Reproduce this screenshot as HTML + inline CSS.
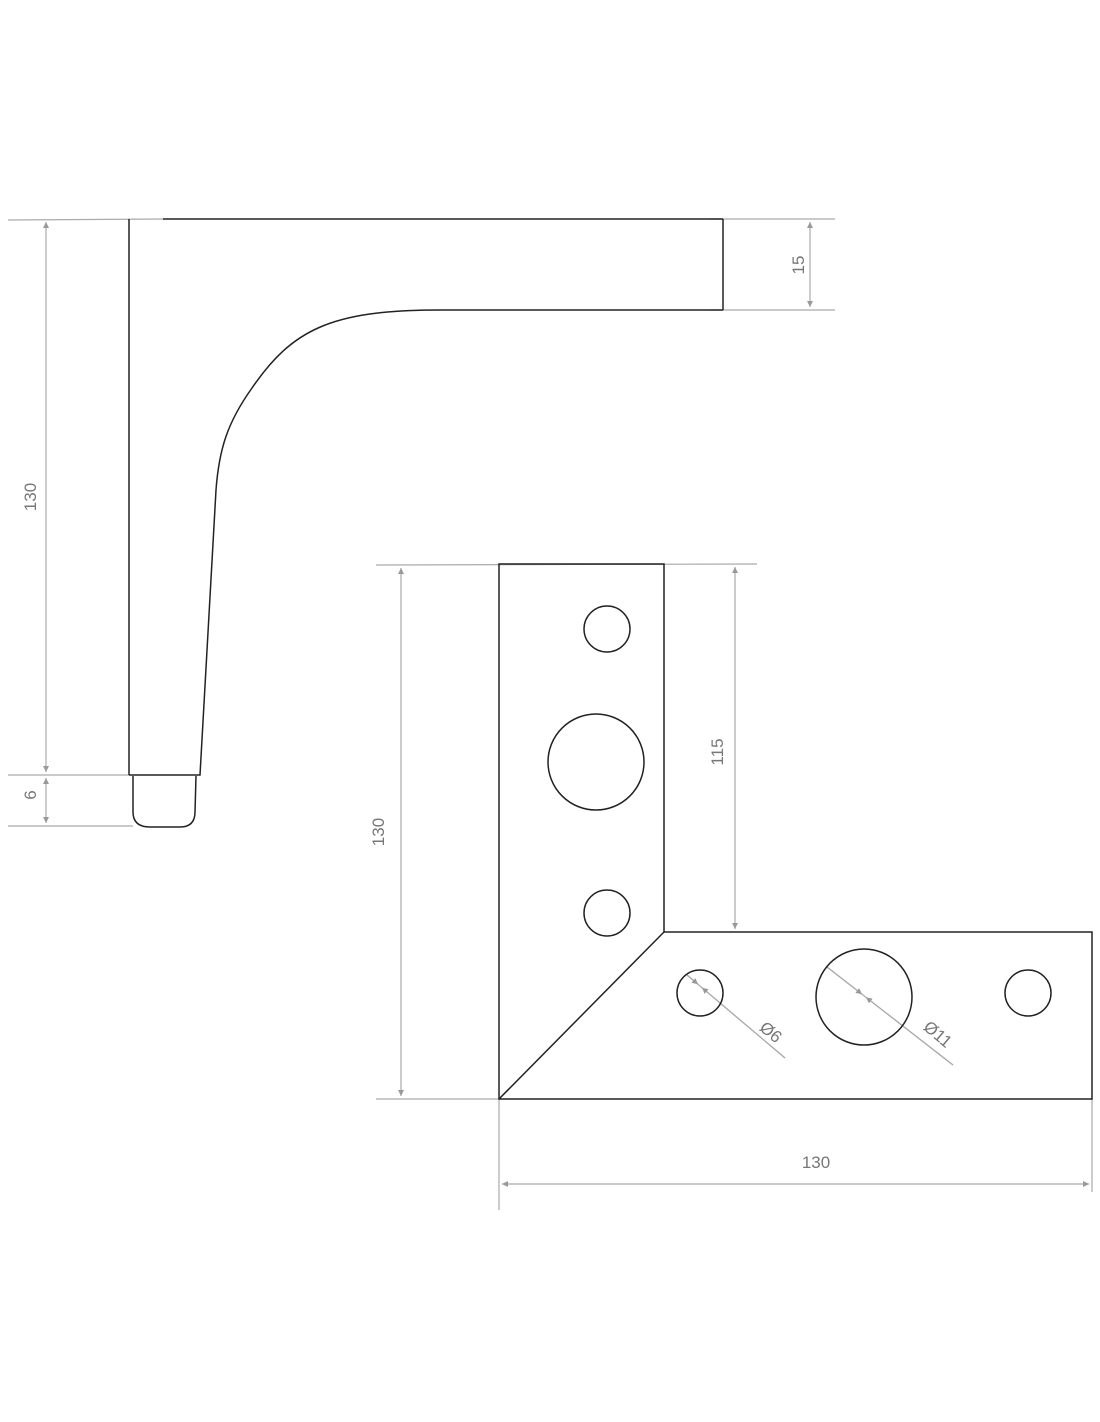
<!DOCTYPE html>
<html><head><meta charset="utf-8"><style>
html,body{margin:0;padding:0;background:#fff;}
svg{display:block;}
text{font-family:"Liberation Sans",sans-serif;font-size:17px;fill:#777;font-weight:300;}
</style></head><body>
<svg width="1100" height="1422" viewBox="0 0 1100 1422" xmlns="http://www.w3.org/2000/svg">
<defs>
<marker id="a" viewBox="0 0 10 10" refX="10" refY="5" markerWidth="10" markerHeight="6" orient="auto-start-reverse" markerUnits="userSpaceOnUse">
<path d="M0,0 L10,5 L0,10 z" fill="#999"/></marker>
</defs>
<g stroke="#aaa" stroke-width="1.2" fill="none">
<line x1="8" y1="220" x2="163" y2="219"/>
<line x1="8" y1="775" x2="129" y2="775"/>
<line x1="8" y1="826" x2="133" y2="826"/>
<line x1="46" y1="222" x2="46" y2="772" marker-start="url(#a)" marker-end="url(#a)"/>
<line x1="46" y1="778" x2="46" y2="823" marker-start="url(#a)" marker-end="url(#a)"/>
<line x1="710" y1="219" x2="835" y2="219"/>
<line x1="710" y1="310" x2="835" y2="310"/>
<line x1="810" y1="222" x2="810" y2="307" marker-start="url(#a)" marker-end="url(#a)"/>
<line x1="376" y1="565" x2="757" y2="564"/>
<line x1="376" y1="1099" x2="499" y2="1099"/>
<line x1="401" y1="568" x2="401" y2="1096" marker-start="url(#a)" marker-end="url(#a)"/>
<line x1="735" y1="567" x2="735" y2="929" marker-start="url(#a)" marker-end="url(#a)"/>
<line x1="499" y1="1099" x2="499" y2="1210"/>
<line x1="1092" y1="1099" x2="1092" y2="1192"/>
<line x1="502" y1="1184" x2="1089" y2="1184" marker-start="url(#a)" marker-end="url(#a)"/>
<line x1="687" y1="975" x2="785" y2="1058"/>
<line x1="687" y1="975" x2="698" y2="984.3" marker-end="url(#a)"/>
<line x1="785" y1="1058" x2="702" y2="987.7" marker-end="url(#a)"/>
<line x1="827" y1="967" x2="953" y2="1065"/>
<line x1="827" y1="967" x2="862" y2="994.2" marker-end="url(#a)"/>
<line x1="953" y1="1065" x2="866" y2="997.3" marker-end="url(#a)"/>
</g>
<g stroke="#222" stroke-width="1.5" fill="none">
<line x1="163" y1="219" x2="723" y2="219"/>
<line x1="129" y1="219" x2="129" y2="775"/>
<line x1="723" y1="219" x2="723" y2="310"/>
<path d="M723 310 L440 310 C330 310 292 330 252 388 C227 423 219 450 216 490 L200 775 L129 775"/>
<path d="M133 776 L133 812 Q133 827 150 827 L180 827 Q195 827 195 812 L196 776"/>
<path d="M499 564 L664 564 L664 932 L1092 932 L1092 1099 L499 1099 Z"/>
<line x1="664" y1="932" x2="499" y2="1099"/>
<circle cx="607" cy="629" r="23"/>
<circle cx="596" cy="762" r="48"/>
<circle cx="607" cy="913" r="23"/>
<circle cx="700" cy="993" r="23"/>
<circle cx="864" cy="997" r="48"/>
<circle cx="1028" cy="993" r="23"/>
</g>
<text x="30" y="497" text-anchor="middle" transform="rotate(-90 30 497)" dy="6">130</text>
<text x="30" y="795" text-anchor="middle" transform="rotate(-90 30 795)" dy="6">6</text>
<text x="798" y="265" text-anchor="middle" transform="rotate(-90 798 265)" dy="6">15</text>
<text x="378" y="832" text-anchor="middle" transform="rotate(-90 378 832)" dy="6">130</text>
<text x="717" y="752" text-anchor="middle" transform="rotate(-90 717 752)" dy="6">115</text>
<text x="816" y="1168" text-anchor="middle">130</text>
<text x="771" y="1032" text-anchor="middle" transform="rotate(40 771 1032)" dy="6">Ø6</text>
<text x="938" y="1034" text-anchor="middle" transform="rotate(40 938 1034)" dy="6">Ø11</text>
</svg>
</body></html>
